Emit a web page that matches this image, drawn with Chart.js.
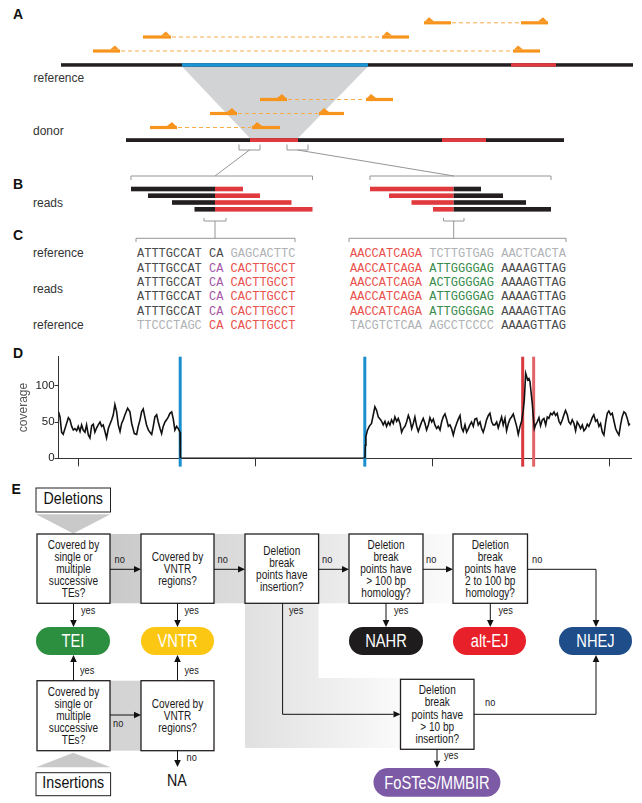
<!DOCTYPE html>
<html>
<head>
<meta charset="utf-8">
<script src="https://cdn.jsdelivr.net/npm/chart.js@4.4.1/dist/chart.umd.min.js"></script>
<style>
  body { margin: 0; background: #fff; }
  #fig { position: relative; width: 642px; height: 803px; overflow: hidden; }
  #schema { position: absolute; left: 0; top: 0; }
  #coverage-wrap { position: absolute; left: 0; top: 345px; width: 642px; height: 130px; }
</style>
</head>
<body>
<div id="fig">
  <svg id="schema" width="642" height="803" xmlns="http://www.w3.org/2000/svg"></svg>
  <div id="coverage-wrap"><canvas id="coverage"></canvas></div>
</div>
<script>
// ---- panel D data (positions in kb)
const POSITIONS = [
  88.5, 89.3, 90.2, 91.1, 92.5, 94.0, 94.9, 95.9, 96.8, 97.7, 98.7, 99.6, 100.6, 101.5, 102.4, 103.4,
  104.3, 105.3, 106.2, 107.2, 108.1, 109.0, 110.0, 110.9, 111.9, 112.8, 113.7, 114.7, 115.6, 116.6,
  117.5, 118.5, 119.4, 120.3, 121.3, 122.2, 123.2, 124.1, 125.0, 126.0, 127.5, 128.8, 129.8, 131.3,
  132.6, 133.5, 134.5, 135.4, 136.3, 137.3, 138.2, 139.2, 140.1, 141.1, 142.0, 142.9, 143.9, 144.8,
  145.8, 146.7, 147.6, 148.6, 149.5, 150.5, 151.4, 152.4, 153.3, 154.2, 155.2, 156.1, 157.1, 157.3,
  261.6, 261.8, 262.1, 262.9, 264.0, 265.3, 266.3, 267.2, 268.2, 269.1, 270.1, 271.0, 271.9, 272.9,
  273.8, 274.8, 275.7, 276.6, 277.6, 278.5, 279.5, 280.4, 281.4, 282.3, 283.2, 284.2, 285.1, 286.1,
  287.0, 288.0, 288.9, 289.8, 290.8, 291.7, 292.7, 293.6, 294.5, 295.5, 296.4, 297.4, 298.3, 299.3,
  300.2, 301.1, 302.1, 303.0, 304.0, 304.9, 305.8, 306.8, 307.7, 308.7, 309.6, 310.5, 311.5, 312.4,
  313.4, 314.3, 315.3, 316.2, 317.1, 318.1, 319.0, 320.0, 320.9, 321.8, 322.8, 323.7, 324.7, 325.6,
  326.6, 327.5, 328.4, 329.4, 330.3, 331.3, 332.2, 333.2, 334.1, 335.0, 336.0, 336.9, 337.9, 338.8,
  339.7, 340.7, 341.6, 342.6, 343.5, 344.4, 345.4, 346.3, 347.3, 348.2, 349.2, 350.1, 351.0, 351.6,
  352.4, 352.9, 353.5, 354.2, 354.8, 355.4, 356.1, 356.7, 357.3, 358.0, 358.9, 359.9, 360.8, 361.8,
  362.7, 363.7, 364.6, 365.5, 366.5, 367.4, 368.4, 369.3, 370.2, 371.2, 372.1, 373.1, 374.0, 374.9,
  375.9, 376.8, 377.8, 378.7, 379.7, 380.6, 381.5, 382.5, 383.4, 384.4, 385.3, 386.3, 387.2, 388.1,
  389.1, 390.0, 390.9, 391.9, 392.8, 393.8, 394.7, 395.7, 396.6, 397.6, 398.5, 399.4, 400.4, 401.3,
  402.3, 403.2, 404.1, 405.1, 406.0, 406.9, 407.9, 408.8, 409.8, 410.7, 411.3
];
const COVERAGE = [
  64, 57, 36, 33, 44, 56, 53, 44, 39, 41, 38, 44, 37, 46, 39, 36,
  46, 32, 28, 45, 47, 36, 42, 46, 50, 44, 46, 37, 28, 41,
  47, 53, 60, 74, 64, 46, 37, 48, 53, 60, 69, 64, 48, 34,
  33, 44, 53, 64, 68, 56, 46, 39, 36, 33, 44, 57, 60, 50,
  41, 34, 44, 50, 53, 57, 62, 64, 54, 39, 44, 41, 36, 0,
  0, 18, 30, 38, 44, 48, 60, 71, 66, 57, 54, 51, 46, 51,
  44, 50, 46, 53, 48, 57, 51, 55, 48, 36, 41, 44, 50, 59,
  53, 41, 48, 57, 44, 37, 44, 50, 55, 48, 39, 46, 56, 50,
  54, 46, 41, 44, 39, 50, 57, 61, 54, 44, 46, 41, 32, 41,
  48, 54, 59, 42, 37, 46, 36, 41, 46, 50, 44, 54, 55, 46,
  50, 41, 36, 44, 53, 59, 62, 50, 46, 46, 50, 42, 50, 57,
  46, 55, 38, 48, 54, 57, 61, 53, 44, 33, 44, 51, 66, 80,
  117, 113, 108, 110, 106, 92, 76, 57, 41, 46, 50, 56, 45, 53,
  55, 46, 57, 55, 62, 60, 64, 59, 62, 51, 47, 53, 60, 66,
  60, 50, 47, 53, 48, 38, 50, 46, 41, 46, 38, 41, 47, 44,
  50, 56, 60, 51, 53, 44, 48, 36, 32, 50, 62, 65, 60, 62,
  51, 41, 36, 32, 46, 57, 64, 62, 55, 46, 48
];
const DELETION_EDGES = [157.2, 261.5];
const DUPLICATION_EDGES = [350.7, 356.9];
const MARKER_SPAN = [-11.5, 140];
const X_TICKS = [100, 200, 300, 400];
const Y_TICKS = [0, 50, 100];

const SANS = "'Liberation Sans', Arial, Helvetica, sans-serif";
const MONO = "'Liberation Mono', 'Courier New', monospace";
const NARROW = 0.84;

// ---- schematic (panels A, B, C, E)
const svg = document.getElementById("schema");
const NS = "http://www.w3.org/2000/svg";

function el(tag, attrs, content, parent) {
  const e = document.createElementNS(NS, tag);
  for (const k in attrs) e.setAttribute(k, attrs[k]);
  if (content != null) e.textContent = content;
  (parent || svg).appendChild(e);
  return e;
}
function rect(x1, y1, x2, y2, fill) {
  return el("rect", { x: x1, y: y1, width: x2 - x1, height: y2 - y1, fill });
}
function poly(pts, fill) {
  return el("polygon", { points: pts.map(p => p.join(",")).join(" "), fill });
}
function line(pts, stroke, width, dash) {
  const a = { points: pts.map(p => p.join(",")).join(" "), fill: "none", stroke, "stroke-width": width || 1 };
  if (dash) a["stroke-dasharray"] = dash;
  return el("polyline", a);
}
function label(x, y, str, size, fill, weight) {
  return el("text", { x, y, "font-family": SANS, "font-size": size, fill, "font-weight": weight || "normal" }, str);
}
function ntext(x, y, str, size, fill, anchor) {
  return el("text", {
    transform: `translate(${x} ${y}) scale(${NARROW} 1)`, "text-anchor": anchor || "middle",
    "font-family": SANS, "font-size": size, fill
  }, str);
}

const INK = "#231f20";
const ORANGE = "#f7941d";
const BLUE = "#1b95d3";
const RED = "#e0393e";
const BRACKET = "#939598";

// panel letters
[["A", 13, 18.5], ["B", 13, 188.5], ["C", 13, 240], ["D", 13, 357.5], ["E", 11.5, 493.5]]
  .forEach(([t, x, y]) => label(x, y, t, 14, "#111", "bold"));

// A: reference / donor
poly([[182, 66.5], [368, 66.5], [298, 138.3], [250, 138.3]], "#d1d3d4");
rect(61, 63.2, 633, 66.7, INK);
rect(182, 63.2, 368, 66.7, BLUE);
rect(511, 63.2, 556, 66.7, RED);
rect(126, 138.2, 564, 142, INK);
rect(250, 138.2, 298, 142, RED);
rect(442, 138.2, 486, 142, RED);
label(33.5, 81.5, "reference", 12, "#333");
label(33, 135, "donor", 12, "#333");

function read(x1, x2, y, side) {
  rect(x1, y - 1.6, x2, y + 1.6, ORANGE);
  if (side === "L") poly([[x1 + 1, y - 1.6], [x1 + 5, y - 5.6], [x1 + 10, y - 1.6]], ORANGE);
  else poly([[x2 - 10, y - 1.6], [x2 - 5, y - 5.6], [x2 - 1, y - 1.6]], ORANGE);
}
function pair(a, b, y, sa, sb) {
  line([[a[1] + 1, y], [b[0] - 1, y]], "#f8a94a", 1, "4 3");
  read(a[0], a[1], y, sa);
  read(b[0], b[1], y, sb);
}
pair([424, 451], [521, 548], 22.8, "L", "R");
pair([143, 171], [382, 409], 37, "R", "L");
pair([93, 120], [513, 540], 51, "R", "L");
pair([260, 287], [366, 393], 99.5, "R", "L");
pair([210, 237], [319, 344], 113.5, "R", "L");
pair([150, 177], [252, 280], 127.5, "R", "L");

// brackets A -> B
line([[239, 144.5], [239, 150], [260, 150], [260, 144.5]], BRACKET);
line([[287, 144.5], [287, 150], [308, 150], [308, 144.5]], BRACKET);
line([[249.5, 150], [215, 176]], BRACKET);
line([[297.5, 150], [454, 176]], BRACKET);
line([[131, 180], [131, 176], [312.5, 176], [312.5, 180]], BRACKET);
line([[370, 180], [370, 176], [551, 176], [551, 180]], BRACKET);

// B: split reads
label(33, 206.5, "reads", 12, "#333");
const rowTops = [186.7, 193.4, 200.2, 207];
[131, 148, 172, 194.5].forEach((x, i) => rect(x, rowTops[i], 215, rowTops[i] + 4.6, INK));
[243, 260, 291.5, 312.5].forEach((x, i) => rect(215, rowTops[i], x, rowTops[i] + 4.6, RED));
[370, 389, 411.5, 433].forEach((x, i) => rect(x, rowTops[i], 453.7, rowTops[i] + 4.6, RED));
[481, 503, 526, 551].forEach((x, i) => rect(453.7, rowTops[i], x, rowTops[i] + 4.6, INK));

// brackets B -> C
line([[204, 218], [204, 221], [226, 221], [226, 218]], BRACKET);
line([[215, 221], [215, 238.3]], BRACKET);
line([[136, 242], [136, 238.3], [295, 238.3], [295, 242]], BRACKET);
line([[443.5, 218], [443.5, 221], [464, 221], [464, 218]], BRACKET);
line([[453.7, 221], [453.7, 238.3]], BRACKET);
line([[349, 242], [349, 238.3], [566, 238.3], [566, 242]], BRACKET);

// C: sequences
const SEQ_DARK = "#4a4a4a", SEQ_GRAY = "#b0b2b5", SEQ_RED = "#e9514d", SEQ_PURPLE = "#a557a4", SEQ_GREEN = "#3a8c4c";
const leftCols = [137, 209, 230.6];
const rightCols = [350, 429.2, 501.2];
const leftRows = [
  [["ATTTGCCAT", SEQ_DARK], ["CA", SEQ_DARK], ["GAGCACTTC", SEQ_GRAY]],
  [["ATTTGCCAT", SEQ_DARK], ["CA", SEQ_PURPLE], ["CACTTGCCT", SEQ_RED]],
  [["ATTTGCCAT", SEQ_DARK], ["CA", SEQ_PURPLE], ["CACTTGCCT", SEQ_RED]],
  [["ATTTGCCAT", SEQ_DARK], ["CA", SEQ_PURPLE], ["CACTTGCCT", SEQ_RED]],
  [["ATTTGCCAT", SEQ_DARK], ["CA", SEQ_PURPLE], ["CACTTGCCT", SEQ_RED]],
  [["TTCCCTAGC", SEQ_GRAY], ["CA", SEQ_RED], ["CACTTGCCT", SEQ_RED]]
];
const rightRows = [
  [["AACCATCAGA", SEQ_RED], ["TCTTGTGAG", SEQ_GRAY], ["AACTCACTA", SEQ_GRAY]],
  [["AACCATCAGA", SEQ_RED], ["ATTGGGGAG", SEQ_GREEN], ["AAAAGTTAG", SEQ_DARK]],
  [["AACCATCAGA", SEQ_RED], ["ACTGGGGAG", SEQ_GREEN], ["AAAAGTTAG", SEQ_DARK]],
  [["AACCATCAGA", SEQ_RED], ["ATTGGGGAG", SEQ_GREEN], ["AAAAGTTAG", SEQ_DARK]],
  [["AACCATCAGA", SEQ_RED], ["ATTGGGGAG", SEQ_GREEN], ["AAAAGTTAG", SEQ_DARK]],
  [["TACGTCTCAA", SEQ_GRAY], ["AGCCTCCCC", SEQ_GRAY], ["AAAAGTTAG", SEQ_DARK]]
];
const seqBase = [257.3, 271.6, 286, 300.4, 314.7, 329];
function seqRow(cols, parts, y) {
  parts.forEach(([s, c], i) => el("text", { x: cols[i], y, "font-family": MONO, "font-size": 12, fill: c }, s));
}
seqBase.forEach((y, i) => { seqRow(leftCols, leftRows[i], y); seqRow(rightCols, rightRows[i], y); });
label(33, 256.5, "reference", 12, "#333");
label(33, 292.5, "reads", 12, "#333");
label(33, 329, "reference", 12, "#333");

// E: flow chart
const defs = el("defs", {});
function grad(id, stops) {
  const g = el("linearGradient", { id, x1: 0, y1: 0, x2: 1, y2: 0 }, null, defs);
  stops.forEach(([o, c]) => el("stop", { offset: o, "stop-color": c }, null, g));
}
grad("rowFade", [[0, "#c9c9c9"], [1, "#fbfbfb"]]);
grad("elbowFade", [[0, "#e0e0e0"], [1, "#fafafa"]]);

rect(110, 534, 453, 603.3, "url(#rowFade)");
poly([[245, 603.3], [318.6, 603.3], [318.6, 678], [400.5, 678], [400.5, 748], [245, 748]], "url(#elbowFade)");
rect(110, 680.7, 141, 750.7, "#d4d4d4");
poly([[36, 514.3], [110.5, 514.3], [73.3, 533.5]], "#c9c9c9");
poly([[73.3, 752.7], [36, 767.3], [110.6, 767.3]], "#c9c9c9");

function box(x1, x2, y1, y2, lines) {
  el("rect", { x: x1, y: y1, width: x2 - x1, height: y2 - y1, fill: "#fff", stroke: INK, "stroke-width": 1.3 });
  const cx = (x1 + x2) / 2, cy = (y1 + y2) / 2, lh = 12.1;
  lines.forEach((t, i) => ntext(cx, cy + (i - (lines.length - 1) / 2) * lh + 4.2, t, 12, "#1a1a1a"));
}
function tagBox(x1, x2, y1, y2, str, base) {
  el("rect", { x: x1, y: y1, width: x2 - x1, height: y2 - y1, fill: "#fff", stroke: INK, "stroke-width": 1 });
  ntext((x1 + x2) / 2, base, str, 17, "#111");
}
function pill(x1, x2, y1, y2, str, fill) {
  const h = y2 - y1;
  el("rect", { x: x1, y: y1, width: x2 - x1, height: h, rx: h / 2, ry: h / 2, fill });
  ntext((x1 + x2) / 2, (y1 + y2) / 2 + 6.2, str, 17.5, "#fff");
}
function arrow(pts) {
  const [a, b] = pts.slice(-2);
  const dx = b[0] - a[0], dy = b[1] - a[1], len = Math.hypot(dx, dy);
  const ux = dx / len, uy = dy / len, L = 7, W = 3.3;
  const base = [b[0] - ux * L, b[1] - uy * L];
  line(pts.slice(0, -1).concat([base]), "#111", 1);
  poly([b, [base[0] - uy * W, base[1] + ux * W], [base[0] + uy * W, base[1] - ux * W]], "#111");
}

tagBox(36, 110.5, 488, 512, "Deletions", 504);
tagBox(36, 110.6, 772.7, 795.7, "Insertions", 787.5);

const TE_Q = ["Covered by", "single or", "multiple", "successive", "TEs?"];
const VNTR_Q = ["Covered by", "VNTR", "regions?"];
box(37, 110, 534, 603.3, TE_Q);
box(141, 214, 534, 603.3, VNTR_Q);
box(245, 318.6, 534, 603.3, ["Deletion", "break", "points have", "insertion?"]);
box(349, 423, 534, 603.3, ["Deletion", "break", "points have", "> 100 bp", "homology?"]);
box(453, 527.5, 534, 603.3, ["Deletion", "break", "points have", "2 to 100 bp", "homology?"]);
box(37, 110, 680.7, 750.7, TE_Q);
box(141, 214, 680.7, 750.7, VNTR_Q);
box(400.5, 474, 679.3, 749.3, ["Deletion", "break", "points have", "> 10 bp", "insertion?"]);

[[110, 141], [214, 245], [318.6, 349], [423, 453]].forEach(([a, b]) => arrow([[a, 569.3], [b, 569.3]]));
arrow([[527.5, 569.3], [596, 569.3], [596, 627]]);
[73.5, 177.5, 386, 490.3].forEach(x => arrow([[x, 603.3], [x, 627]]));
arrow([[282.6, 603.3], [282.6, 714.3], [400.5, 714.3]]);
[73.5, 177.5].forEach(x => arrow([[x, 680.7], [x, 655]]));
arrow([[110, 715], [141, 715]]);
arrow([[177.5, 750.7], [177.5, 767]]);
arrow([[474, 714.3], [596, 714.3], [596, 655]]);
arrow([[437, 749.3], [437, 767.7]]);

pill(36, 110, 627, 655, "TEI", "#2c8f3f");
pill(141, 214, 627, 655, "VNTR", "#fcc712");
pill(349, 423, 627, 655, "NAHR", "#1f1c1d");
pill(453, 526, 627, 655, "alt-EJ", "#e8202a");
pill(559, 632, 627, 655, "NHEJ", "#1e4d8a");
pill(373.5, 500.4, 768, 796.7, "FoSTeS/MMBIR", "#7c5aa5");

[[114.5, 562.7], [217.5, 562.7], [322, 562.7], [426, 562.7], [532, 562.7], [113, 726.7], [186.5, 760.7], [485, 706]]
  .forEach(([x, y]) => ntext(x, y, "no", 11, "#1a1a1a", "start"));
[[81, 614], [184.5, 614], [289, 614], [394, 614], [498.5, 614], [80, 674], [184.5, 674], [444, 759.3]]
  .forEach(([x, y]) => ntext(x, y, "yes", 11, "#1a1a1a", "start"));
ntext(167, 786, "NA", 17, "#111", "start");

// ---- panel D: coverage chart
const trace = POSITIONS.map((x, i) => ({ x, y: COVERAGE[i] }));
const marker = (x, color) => ({
  data: MARKER_SPAN.map(y => ({ x, y })), borderColor: color, borderWidth: 3,
  pointRadius: 0, clip: false, order: 1
});

new Chart(document.getElementById("coverage"), {
  type: "line",
  data: {
    datasets: [
      { data: trace, borderColor: "#111", borderWidth: 1.6, pointRadius: 0, tension: 0, order: 0 },
      marker(DELETION_EDGES[0], "#1a8fcf"),
      marker(DELETION_EDGES[1], "#1a8fcf"),
      marker(DUPLICATION_EDGES[0], "#d8393f"),
      marker(DUPLICATION_EDGES[1], "#e06468")
    ]
  },
  options: {
    responsive: true,
    maintainAspectRatio: false,
    animation: false,
    layout: { padding: { top: 11.7, right: 11, left: 0, bottom: 0 } },
    plugins: { legend: { display: false }, tooltip: { enabled: false } },
    scales: {
      x: {
        type: "linear",
        min: 88.5,
        max: 411.9,
        afterBuildTicks(scale) { scale.ticks = X_TICKS.map(value => ({ value })); },
        afterFit(scale) { scale.height = 16.7; },
        grid: { drawOnChartArea: false, drawTicks: true, tickLength: 8, color: "#333" },
        border: { color: "#333", width: 1 },
        ticks: { display: false }
      },
      y: {
        min: 0,
        max: 140,
        afterBuildTicks(scale) { scale.ticks = Y_TICKS.map(value => ({ value })); },
        afterFit(scale) { scale.width = 58.6; },
        grid: { drawOnChartArea: false, drawTicks: true, tickLength: 4, color: "#333" },
        border: { color: "#333", width: 1 },
        ticks: { color: "#222", padding: 0, font: { family: SANS, size: 11.5 } },
        title: { display: true, text: "coverage", color: "#555", font: { family: SANS, size: 12 }, padding: { top: 16.8, bottom: 0 } }
      }
    }
  }
});
</script>
</body>
</html>
